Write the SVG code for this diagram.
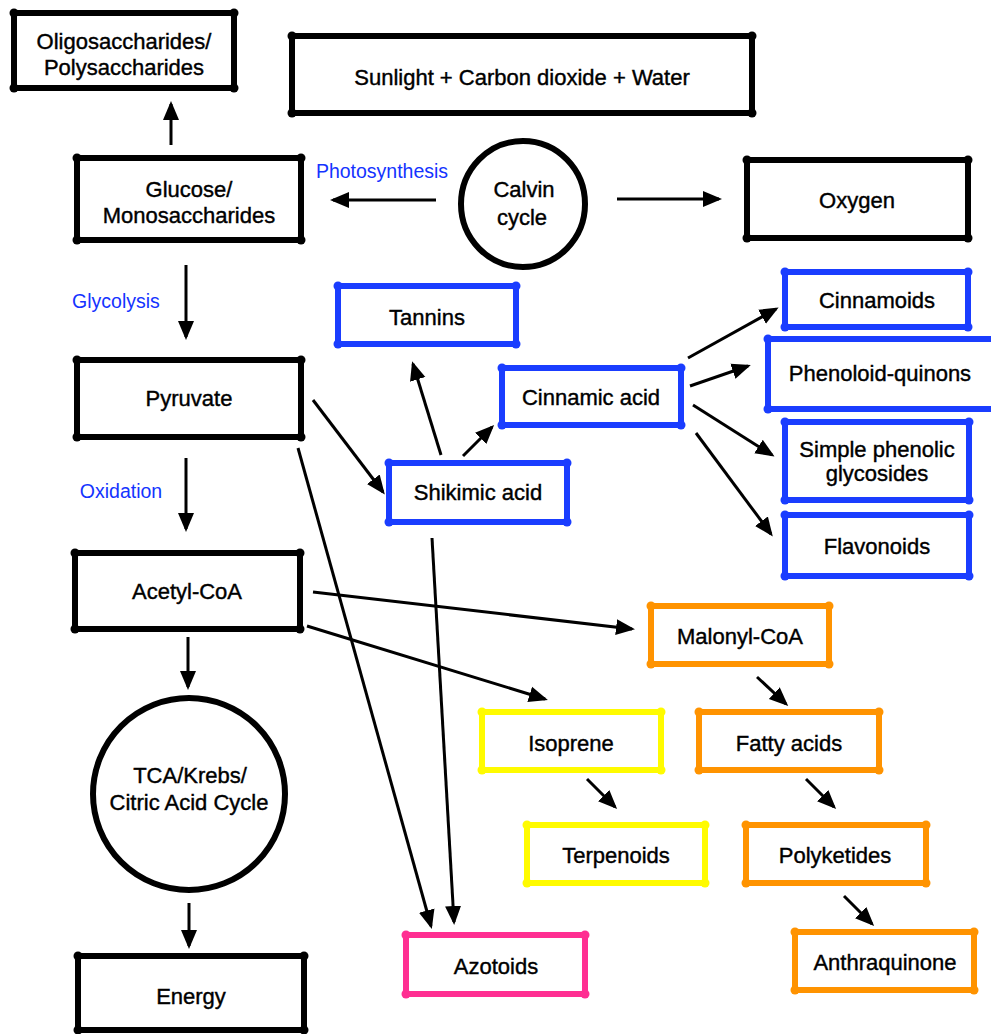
<svg xmlns="http://www.w3.org/2000/svg" width="991" height="1034" viewBox="0 0 991 1034">
<style>
.t{font-family:"Liberation Sans",Arial,sans-serif;font-size:22px;fill:#000;stroke:#000;stroke-width:0.4;text-anchor:middle;dominant-baseline:central}
.lbl{font-family:"Liberation Sans",Arial,sans-serif;font-size:19.5px;fill:#1433ff;text-anchor:middle;dominant-baseline:central}
.box{fill:#fff;stroke-width:6;stroke-linejoin:round}
.k{stroke:#000;marker-start:url(#kk);marker-mid:url(#kk)}
.b{stroke:#1a3dff;marker-start:url(#kb);marker-mid:url(#kb)}
.o{stroke:#ff9300;marker-start:url(#ko);marker-mid:url(#ko)}
.y{stroke:#fffb00;marker-start:url(#ky);marker-mid:url(#ky)}
.p{stroke:#ff2f92;marker-start:url(#kp);marker-mid:url(#kp)}
.circ{fill:#fff;stroke:#000;stroke-width:6}
.arr{stroke:#000;stroke-width:3;fill:none;marker-end:url(#ah)}
</style>
<defs>
<marker id="ah" markerUnits="userSpaceOnUse" markerWidth="20" markerHeight="18" refX="16" refY="9" orient="auto"><path d="M0,1 L19,9 L0,17 z" fill="#000"/></marker>
<marker id="kk" markerUnits="userSpaceOnUse" markerWidth="14" markerHeight="14" refX="7" refY="7"><circle cx="7" cy="7" r="4.5" fill="#000"/></marker>
<marker id="kb" markerUnits="userSpaceOnUse" markerWidth="14" markerHeight="14" refX="7" refY="7"><circle cx="7" cy="7" r="4.5" fill="#1a3dff"/></marker>
<marker id="ko" markerUnits="userSpaceOnUse" markerWidth="14" markerHeight="14" refX="7" refY="7"><circle cx="7" cy="7" r="4.5" fill="#ff9300"/></marker>
<marker id="ky" markerUnits="userSpaceOnUse" markerWidth="14" markerHeight="14" refX="7" refY="7"><circle cx="7" cy="7" r="4.5" fill="#fffb00"/></marker>
<marker id="kp" markerUnits="userSpaceOnUse" markerWidth="14" markerHeight="14" refX="7" refY="7"><circle cx="7" cy="7" r="4.5" fill="#ff2f92"/></marker>
</defs>
<rect width="991" height="1034" fill="#fff"/>

<g id="connectors">
<line class="arr" x1="171" y1="145" x2="171" y2="104"/>
<line class="arr" x1="436" y1="200" x2="333" y2="200"/>
<line class="arr" x1="617" y1="199" x2="719" y2="199"/>
<line class="arr" x1="186" y1="265" x2="186" y2="337"/>
<line class="arr" x1="186" y1="458" x2="186" y2="529"/>
<line class="arr" x1="188" y1="637" x2="188" y2="687"/>
<line class="arr" x1="189" y1="903" x2="189" y2="946"/>
<line class="arr" x1="313" y1="400" x2="383" y2="492"/>
<line class="arr" x1="441" y1="455" x2="413" y2="364"/>
<line class="arr" x1="463" y1="456" x2="492" y2="427"/>
<line class="arr" x1="688" y1="358" x2="776" y2="309"/>
<line class="arr" x1="690" y1="386" x2="748" y2="366"/>
<line class="arr" x1="693" y1="405" x2="772" y2="455"/>
<line class="arr" x1="696" y1="433" x2="771" y2="534"/>
<line class="arr" x1="298" y1="448" x2="431" y2="926"/>
<line class="arr" x1="432" y1="538" x2="454" y2="922"/>
<line class="arr" x1="313" y1="592" x2="632" y2="629"/>
<line class="arr" x1="307" y1="626" x2="545" y2="699"/>
<line class="arr" x1="757" y1="677" x2="786" y2="704"/>
<line class="arr" x1="587" y1="779" x2="615" y2="807"/>
<line class="arr" x1="806" y1="779" x2="834" y2="807"/>
<line class="arr" x1="844" y1="896" x2="872" y2="924"/>
</g>

<g id="n-oligo"><path class="box k" d="M14,13 H234 V88 H14 Z"/><text class="t" x="124" y="41">Oligosaccharides/</text><text class="t" x="124" y="67">Polysaccharides</text></g>
<g id="n-sunlight"><path class="box k" d="M292,36 H752 V113 H292 Z"/><text class="t" x="522" y="77">Sunlight + Carbon dioxide + Water</text></g>
<g id="n-glucose"><path class="box k" d="M77,158 H301 V240 H77 Z"/><text class="t" x="189" y="189">Glucose/</text><text class="t" x="189" y="215">Monosaccharides</text></g>
<g id="n-calvin"><ellipse class="circ" cx="523" cy="204" rx="62" ry="63"/><text class="t" x="524" y="189">Calvin</text><text class="t" x="522" y="217">cycle</text></g>
<g id="n-oxygen"><path class="box k" d="M747,160 H968 V238 H747 Z"/><text class="t" x="857" y="200">Oxygen</text></g>
<g id="n-pyruvate"><path class="box k" d="M77,360 H301 V437 H77 Z"/><text class="t" x="189" y="398">Pyruvate</text></g>
<g id="n-acetyl"><path class="box k" d="M75,553 H300 V629 H75 Z"/><text class="t" x="187" y="591">Acetyl-CoA</text></g>
<g id="n-tca"><circle class="circ" cx="189" cy="794" r="96"/><text class="t" x="190" y="775">TCA/Krebs/</text><text class="t" x="189" y="802">Citric Acid Cycle</text></g>
<g id="n-energy"><path class="box k" d="M78,956 H304 V1030 H78 Z"/><text class="t" x="191" y="996">Energy</text></g>

<g id="n-tannins"><path class="box b" d="M338,286 H516 V344 H338 Z"/><text class="t" x="427" y="317">Tannins</text></g>
<g id="n-cinnamic"><path class="box b" d="M502,368 H681 V425 H502 Z"/><text class="t" x="591" y="397">Cinnamic acid</text></g>
<g id="n-shikimic"><path class="box b" d="M389,463 H567 V522 H389 Z"/><text class="t" x="478" y="492">Shikimic acid</text></g>
<g id="n-cinnamoids"><path class="box b" d="M785,272 H968 V327 H785 Z"/><text class="t" x="877" y="300">Cinnamoids</text></g>
<g id="n-phenoloid"><path class="box b" d="M768,339 H1000 V409 H768 Z"/><text class="t" x="880" y="373">Phenoloid-quinons</text></g>
<g id="n-simple"><path class="box b" d="M785,422 H969 V500 H785 Z"/><text class="t" x="877" y="449">Simple phenolic</text><text class="t" x="877" y="473">glycosides</text></g>
<g id="n-flavonoids"><path class="box b" d="M785,515 H969 V576 H785 Z"/><text class="t" x="877" y="546">Flavonoids</text></g>

<g id="n-malonyl"><path class="box o" d="M651,606 H829 V664 H651 Z"/><text class="t" x="740" y="636">Malonyl-CoA</text></g>
<g id="n-isoprene"><path class="box y" d="M482,712 H661 V770 H482 Z"/><text class="t" x="571" y="743">Isoprene</text></g>
<g id="n-fatty"><path class="box o" d="M699,712 H879 V770 H699 Z"/><text class="t" x="789" y="743">Fatty acids</text></g>
<g id="n-terpenoids"><path class="box y" d="M527,825 H705 V883 H527 Z"/><text class="t" x="616" y="855">Terpenoids</text></g>
<g id="n-polyketides"><path class="box o" d="M746,825 H926 V883 H746 Z"/><text class="t" x="835" y="855">Polyketides</text></g>
<g id="n-anthraquinone"><path class="box o" d="M795,932 H974 V990 H795 Z"/><text class="t" x="885" y="962">Anthraquinone</text></g>
<g id="n-azotoids"><path class="box p" d="M406,935 H585 V994 H406 Z"/><text class="t" x="496" y="966">Azotoids</text></g>

<g id="labels">
<text class="lbl" x="382" y="171">Photosynthesis</text>
<text class="lbl" x="116" y="301">Glycolysis</text>
<text class="lbl" x="121" y="491">Oxidation</text>
</g>
</svg>
